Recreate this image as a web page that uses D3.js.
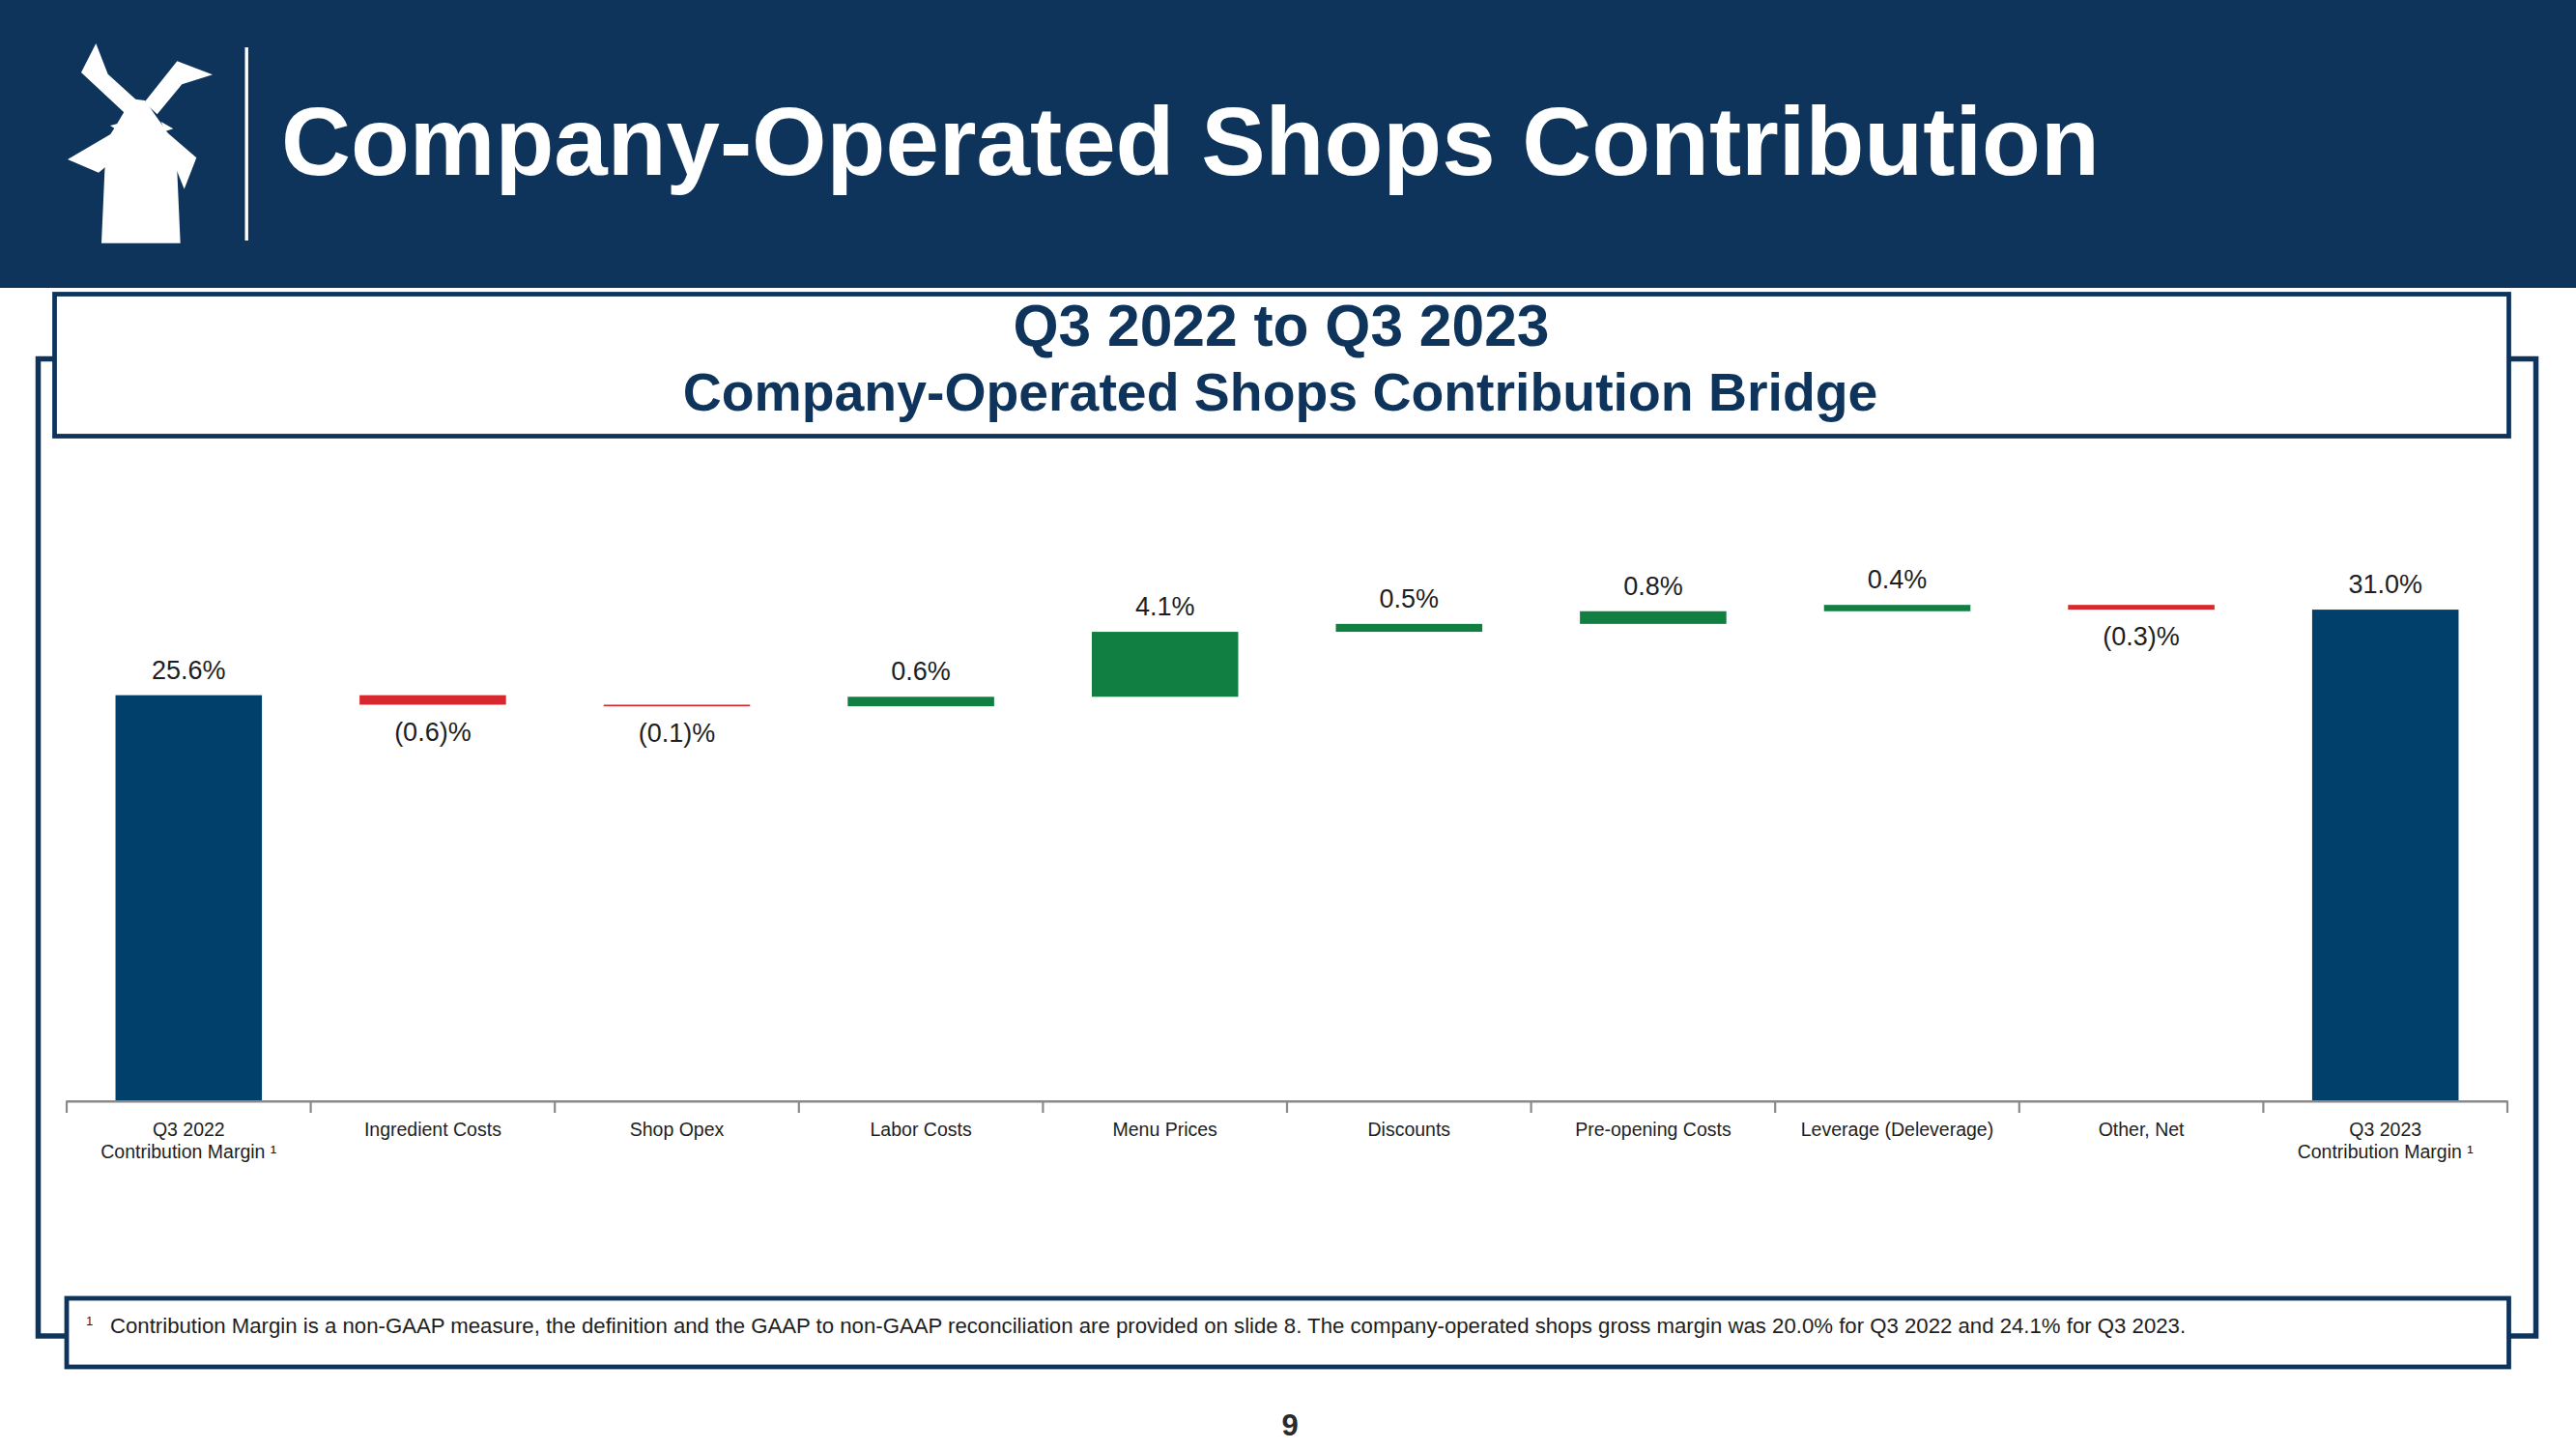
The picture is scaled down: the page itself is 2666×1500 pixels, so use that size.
<!DOCTYPE html>
<html>
<head>
<meta charset="utf-8">
<script src="https://cdn.jsdelivr.net/npm/d3@7"></script>
<style>
  html, body { margin: 0; padding: 0; background: #ffffff; }
  svg { display: block; }
  text { font-family: "Liberation Sans", Arial, Helvetica, sans-serif; }
</style>
</head>
<body>
<svg id="chart" width="2666" height="1500"></svg>
<script>
// ---------- data ----------
const categories = [
  ["Q3 2022", "Contribution Margin \u00b9"],
  ["Ingredient Costs"],
  ["Shop Opex"],
  ["Labor Costs"],
  ["Menu Prices"],
  ["Discounts"],
  ["Pre-opening Costs"],
  ["Leverage (Deleverage)"],
  ["Other, Net"],
  ["Q3 2023", "Contribution Margin \u00b9"]
];
const values = [25.6, -0.6, -0.1, 0.6, 4.1, 0.5, 0.8, 0.4, -0.3, 31.0];
const kinds  = ["total", "delta", "delta", "delta", "delta", "delta", "delta", "delta", "delta", "total"];

const pageTitle = "Company-Operated Shops Contribution";
const chartTitle = "Q3 2022 to Q3 2023";
const chartSubtitle = "Company-Operated Shops Contribution Bridge";
const footnote = "Contribution Margin is a non-GAAP measure, the definition and the GAAP to non-GAAP reconciliation are provided on slide 8. The company-operated shops gross margin was 20.0% for Q3 2022 and 24.1% for Q3 2023.";
const pageNumber = "9";

// ---------- style ----------
const NAVY = "#0f345b";
const BAR_NAVY = "#01406a";
const GREEN = "#127f42";
const RED = "#d8282f";
const TEXT = "#1e1e1e";

const svg = d3.select("#chart");
svg.append("rect").attr("width", 2666).attr("height", 1500).attr("fill", "#fff");

function fitText(sel, target) {
  const fs = parseFloat(sel.attr("font-size"));
  const w = sel.node().getComputedTextLength();
  sel.attr("font-size", (fs * target / w).toFixed(2));
}

// ---------- header ----------
svg.append("rect").attr("x", 0).attr("y", 0).attr("width", 2666).attr("height", 298).attr("fill", NAVY);

// windmill logo (decorative)
const logo = svg.append("g").attr("fill", "#fff");
const toFull = p => [p[0] / 3 + 40, p[1] / 3 + 30];
const shapes = [
  [[195,665],[440,665],[430,440],[405,330],[385,300],[330,222],[300,218],[265,258],[240,300],[215,340],[205,440]],
  [[132,135],[178,45],[215,140],[305,222],[268,262]],
  [[430,100],[540,142],[445,172],[368,265],[328,228]],
  [[90,405],[232,322],[250,345],[218,420],[186,446]],
  [[395,318],[490,400],[452,497],[425,430]],
  [[222,300],[260,290],[250,318]],
  [[418,310],[380,288],[392,318]]
];
shapes.forEach(s => logo.append("path").attr("d", d3.line()(s.map(toFull)) + "Z"));

svg.append("rect").attr("x", 253.5).attr("y", 49).attr("width", 3.4).attr("height", 200).attr("fill", "#fff");

const t1 = svg.append("text").attr("x", 291).attr("y", 181)
  .attr("fill", "#fff").attr("font-weight", "bold").attr("font-size", 100).text(pageTitle);
fitText(t1, 1882);

// ---------- frames ----------
svg.append("rect").attr("x", 39.5).attr("y", 371.5).attr("width", 2585).attr("height", 1011.5)
  .attr("fill", "none").attr("stroke", NAVY).attr("stroke-width", 5.5);
svg.append("rect").attr("x", 56.5).attr("y", 304.5).attr("width", 2540).attr("height", 147)
  .attr("fill", "#fff").attr("stroke", NAVY).attr("stroke-width", 4.8);
svg.append("rect").attr("x", 69).attr("y", 1344).attr("width", 2527.5).attr("height", 71)
  .attr("fill", "#fff").attr("stroke", NAVY).attr("stroke-width", 4.8);

const s1 = svg.append("text").attr("x", 1326).attr("y", 358).attr("text-anchor", "middle")
  .attr("fill", NAVY).attr("font-weight", "bold").attr("font-size", 60).text(chartTitle);
fitText(s1, 555);
const s2 = svg.append("text").attr("x", 1325).attr("y", 425).attr("text-anchor", "middle")
  .attr("fill", NAVY).attr("font-weight", "bold").attr("font-size", 55).text(chartSubtitle);
fitText(s2, 1237);

// ---------- chart ----------
const idx = d3.range(categories.length);
const x = d3.scaleBand().domain(idx).range([69, 2595]).paddingInner(0.4).paddingOuter(0.2);
const Y0 = 1139.5, PX = 16.4;
const y = d3.scaleLinear().domain([0, 35]).range([Y0, Y0 - PX * 35]);

let run = 0;
const bars = values.map((v, i) => {
  let lo, hi;
  if (kinds[i] === "total") { lo = 0; hi = v; run = v; }
  else { const start = run; run = run + v; lo = Math.min(start, run); hi = Math.max(start, run); }
  const color = kinds[i] === "total" ? BAR_NAVY : (v >= 0 ? GREEN : RED);
  return { i, v, lo, hi, color, kind: kinds[i] };
});

svg.append("g").selectAll("rect").data(bars).join("rect")
  .attr("x", d => x(d.i))
  .attr("width", x.bandwidth())
  .attr("y", d => y(d.hi))
  .attr("height", d => Math.max(1.5, y(d.lo) - y(d.hi)))
  .attr("fill", d => d.color);

const fmt = v => v < 0 ? "(" + d3.format(".1f")(-v) + ")%" : d3.format(".1f")(v) + "%";
svg.append("g").selectAll("text").data(bars).join("text")
  .attr("x", d => x(d.i) + x.bandwidth() / 2)
  .attr("y", d => d.v < 0 ? y(d.lo) + 37 : y(d.hi) - 17)
  .attr("text-anchor", "middle")
  .attr("font-size", 27)
  .attr("fill", TEXT)
  .text(d => fmt(d.v));

// axis
const axisG = svg.append("g");
axisG.append("line").attr("x1", x.range()[0]).attr("x2", x.range()[1]).attr("y1", Y0 + 0.8).attr("y2", Y0 + 0.8)
  .attr("stroke", "#8a8a8a").attr("stroke-width", 2.6);
const step = x.step();
const tickXs = d3.range(categories.length + 1).map(k => x.range()[0] + k * step);
axisG.selectAll("line.tick").data(tickXs).join("line").attr("class", "tick")
  .attr("x1", d => d).attr("x2", d => d).attr("y1", Y0).attr("y2", Y0 + 12.5)
  .attr("stroke", "#8a8a8a").attr("stroke-width", 2.2);

const catG = axisG.selectAll("text.cat").data(idx).join("text").attr("class", "cat")
  .attr("x", i => x(i) + x.bandwidth() / 2)
  .attr("y", 1176)
  .attr("text-anchor", "middle")
  .attr("font-size", 19.5)
  .attr("fill", TEXT);
catG.each(function(i) {
  const t = d3.select(this);
  categories[i].forEach((line, k) => {
    t.append("tspan").attr("x", x(i) + x.bandwidth() / 2).attr("dy", k === 0 ? 0 : 23).text(line);
  });
});

// ---------- footnote ----------
svg.append("text").attr("x", 89).attr("y", 1372).attr("font-size", 13).attr("fill", TEXT).text("1");
const fn = svg.append("text").attr("x", 114).attr("y", 1380).attr("font-size", 20).attr("fill", TEXT).text(footnote);
fitText(fn, 2148);

svg.append("text").attr("x", 1335).attr("y", 1486).attr("text-anchor", "middle")
  .attr("font-size", 31).attr("font-weight", "bold").attr("fill", "#2b2b2b").text(pageNumber);
</script>
</body>
</html>
